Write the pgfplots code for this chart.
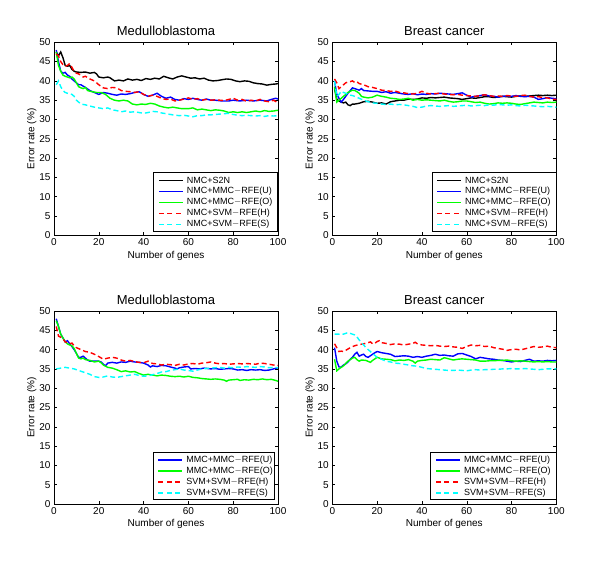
\documentclass[border=0pt]{standalone}
\usepackage{pgfplots}
\pgfplotsset{compat=1.18}
\usepackage{fontspec}
\setmainfont{Liberation Sans}
\definecolor{mblue}{rgb}{0,0,1}
\definecolor{mgreen}{rgb}{0,1,0}
\definecolor{mred}{rgb}{1,0,0}
\definecolor{mcyan}{rgb}{0,1,1}
\pgfplotsset{
  mystyle/.style={
    width=224pt, height=193pt, scale only axis,
    xmin=0, xmax=100, ymin=0, ymax=50,
    xtick={0,20,...,100}, ytick={0,5,...,50},
    tick align=inside, major tick length=3pt,
    tick style={black, line width=0.4pt},
    axis line style={black, line width=0.5pt},
    /pgf/number format/assume math mode=true,
    tick label style={font=\fontsize{10}{10}\selectfont},
    label style={font=\fontsize{10}{10}\selectfont},
    title style={font=\fontsize{13}{13}\selectfont, yshift=-3pt},
    xlabel={Number of genes}, ylabel={Error rate (\%)},
    xlabel style={yshift=2pt},
    ylabel shift=-4pt,
  },
}
\tikzset{
  pblack/.style={draw=black, line width=1.4pt},
  pblue/.style={draw=mblue, line width=1.4pt},
  pgreen/.style={draw=mgreen, line width=1.4pt},
  pred/.style={draw=mred, line width=1.4pt, dash pattern=on 5pt off 3pt},
  pcyan/.style={draw=mcyan, line width=1.4pt, dash pattern=on 5pt off 3pt},
}
% legend helpers (box and entries placed relative to the axis' south east corner)
\newcommand\legbox[5]{\draw[black,line width=0.5pt,fill=white] ([shift={(#2,#3)}]#1.south east) rectangle ([shift={(#4,#5)}]#1.south east);}
\newcommand\legsolid[4]{%
  \fill[#4] ([shift={(#2,#3-0.75pt)}]#1.south east) rectangle ++(24pt,1.5pt);}
\newcommand\legdash[4]{%
  \fill[#4] ([shift={(#2,#3-0.75pt)}]#1.south east) rectangle ++(5pt,1.5pt);
  \fill[#4] ([shift={(#2+8.5pt,#3-0.75pt)}]#1.south east) rectangle ++(5pt,1.5pt);
  \fill[#4] ([shift={(#2+17pt,#3-0.75pt)}]#1.south east) rectangle ++(5pt,1.5pt);}
\newcommand\legtext[4]{%
  \node[anchor=west, inner sep=0pt, font=\fontsize{9}{9}\selectfont] at ([shift={(#2+28.2pt,#3)}]#1.south east) {#4};}
\begin{document}
\begin{tikzpicture}
\useasboundingbox (0pt,0pt) rectangle (600pt,567pt);
% ---------- Panel 1 ----------
\begin{axis}[mystyle, name=ax1, at={(54pt,331.7pt)}, anchor=south west, title={Medulloblastoma}]
\addplot[pblack] coordinates {(1,47.5)(2,46.5)(3,47.5)(4,46)(5,44)(6,43.8)(7,44)(8,43)(9,42.5)(10,42.3)(12,42.2)(14,42.3)(16,42)(18,42.2)(19,41.8)(20,41)(22,40.8)(24,41)(25,40.8)(27,40)(29,40.2)(31,40)(33,40.5)(35,40.2)(37,40.4)(39,40.1)(41,40.6)(43,40.4)(45,40.7)(47,40.5)(49,41.2)(51,40.8)(53,40.5)(55,41)(57,41.3)(59,41)(61,40.7)(63,40.8)(65,40.5)(67,40.7)(69,40.2)(71,40)(73,40.1)(75,40.3)(77,40.5)(79,40.4)(81,40)(83,39.8)(85,40)(87,39.9)(89,39.5)(91,39.3)(93,39.2)(95,38.9)(97,39.1)(99,39.2)(100,39.3)};
\addplot[pblue] coordinates {(1,48)(2,45)(3,42.5)(4,42)(5,42.2)(6,41.5)(7,41.2)(8,40.5)(9,40)(10,39.5)(11,39)(12,39)(14,38.3)(16,37.5)(18,37)(20,36.5)(22,37)(24,36.8)(26,36.5)(28,36.3)(30,36.6)(32,36.5)(34,36.7)(36,37)(38,37.2)(40,36.5)(42,36)(44,36.3)(46,36.8)(48,36)(50,35.5)(52,35.8)(54,35.2)(56,35)(58,35.4)(60,35.2)(62,35.5)(64,35.2)(66,35)(68,35.3)(70,35)(72,35)(75,34.8)(78,34.8)(80,35)(83,34.8)(86,35)(89,34.8)(92,35)(95,34.8)(97,35.2)(99,35.5)(100,35.3)};
\addplot[pgreen] coordinates {(1,47.5)(2,44)(3,42.5)(4,41.5)(5,41.2)(6,41)(7,40.8)(8,41)(9,40.5)(10,39.5)(11,38.5)(12,38.2)(13,38)(14,38.3)(15,37.5)(17,37.2)(19,37)(21,37)(23,36.5)(25,35.5)(27,35)(29,34.8)(31,35)(33,34.8)(35,34)(37,33.8)(39,34)(41,33.9)(43,34.2)(45,34)(47,33.5)(49,33.2)(51,33)(53,33.2)(55,33)(57,32.8)(60,32.8)(62,33)(64,32.5)(66,32.7)(68,32.5)(70,32.3)(72,32.5)(74,32.4)(76,32.2)(78,31.8)(80,32)(82,31.8)(84,32)(86,31.8)(88,32)(90,32.2)(92,32)(94,32.3)(96,32.1)(98,32.2)(100,32.4)};
\addplot[pred] coordinates {(1,47)(2,46.5)(3,45)(4,44.2)(5,43.8)(6,44)(7,44.5)(8,43.5)(9,42.5)(10,42)(11,41.8)(12,41.5)(13,41)(14,41.2)(16,40.5)(18,40)(20,39)(22,38.2)(24,38)(26,38.3)(28,38.2)(30,37.5)(32,37.3)(34,37.2)(36,37)(38,37.2)(40,36.5)(42,36)(44,36.3)(46,36)(48,35.5)(50,35.2)(52,35.3)(54,34.8)(56,35)(58,35.3)(60,35.6)(62,35.2)(64,35.4)(66,35)(68,35.2)(70,35)(72,35.1)(74,35)(76,34.9)(78,35.2)(80,35.5)(82,35)(84,35.2)(86,34.7)(88,35)(90,34.8)(92,35.2)(94,34.8)(96,34.6)(98,35)(100,34.3)};
\addplot[pcyan] coordinates {(1,39)(2,40)(3,38.5)(4,37.5)(5,37)(6,36.8)(7,36.7)(8,36.5)(9,36)(10,35)(11,34.5)(12,34)(14,33.8)(16,33.5)(18,33.2)(20,33)(22,32.8)(24,33)(26,32.5)(28,32.3)(30,32)(32,32.2)(34,31.9)(36,32)(38,31.8)(40,31.6)(42,31.8)(44,32.1)(46,32)(48,31.7)(50,31.5)(52,31.3)(54,31.1)(56,31)(58,31.1)(60,30.9)(62,30.7)(64,31)(66,31)(68,31.2)(70,31.2)(72,31.3)(74,31.4)(76,31.5)(78,31.6)(80,31.3)(82,31.1)(84,31)(86,31.1)(88,31)(90,30.9)(92,31)(94,30.8)(96,31)(98,30.9)(100,31)};
\end{axis}
% ---------- Panel 2 ----------
\begin{axis}[mystyle, name=ax2, at={(332.3pt,331.7pt)}, anchor=south west, title={Breast cancer}]
\addplot[pblack] coordinates {(1,38)(2,35.2)(3,34.8)(4,34.5)(5,34.3)(6,34.5)(7,33.8)(8,33.6)(9,34)(10,34)(12,34.2)(14,34.6)(16,34.7)(18,34.5)(20,34.2)(22,34.3)(24,34)(26,34.6)(28,34.8)(30,35)(32,35)(34,35.3)(36,35.2)(38,35.3)(40,35.6)(42,35.5)(44,35.7)(46,35.6)(48,35.7)(50,35.8)(52,35.6)(54,35.5)(56,35.4)(58,35.2)(60,35.4)(62,35.6)(64,35.5)(66,35.7)(68,35.9)(70,35.9)(72,35.7)(74,35.8)(76,36)(78,35.9)(80,35.8)(82,36)(84,36.1)(86,36)(88,36.1)(90,36.2)(92,36.3)(94,36.2)(96,36.3)(98,36.2)(100,36.3)};
\addplot[pblue] coordinates {(1,40)(2,36.5)(3,35.5)(4,34.5)(5,35.2)(6,36)(7,36.8)(8,37.5)(9,38.2)(10,38)(11,37.8)(12,37.6)(13,38)(14,37.5)(16,37.4)(18,37.3)(20,37.3)(22,37)(24,37.2)(26,36.8)(28,37)(30,36.8)(32,36.6)(34,36.5)(36,36.7)(38,36.4)(40,36.6)(42,36.5)(44,36.7)(46,36.6)(48,36.8)(50,36.7)(52,36.6)(54,36.5)(56,36.7)(58,36.9)(60,36.3)(62,35.8)(64,36)(66,36.2)(68,36.4)(70,36.1)(72,36)(74,35.8)(76,36)(78,36.1)(80,36)(82,36.2)(84,36)(86,35.9)(88,36)(90,35.8)(92,35.2)(94,35.4)(96,35.7)(98,35.5)(100,35.4)};
\addplot[pgreen] coordinates {(1,38.5)(2,34.5)(3,35)(4,35.5)(5,36)(6,36.5)(7,37)(8,37.3)(9,37.6)(10,37.5)(11,37.2)(12,36.8)(13,36)(14,35.8)(16,35.6)(18,35.8)(20,36.3)(22,36)(24,35.8)(26,35.5)(28,35.4)(30,35.2)(32,35.3)(34,35.5)(36,35)(38,35.2)(40,35)(42,35.1)(44,35)(46,34.9)(48,34.8)(50,35)(52,34.7)(54,34.5)(56,34.6)(58,34.8)(60,34.8)(62,34.6)(64,34.4)(66,34.5)(68,34.2)(70,34)(72,34.1)(74,34.3)(76,34.2)(78,34.3)(80,34.2)(82,34)(84,33.9)(86,34.1)(88,34.3)(90,34.5)(92,34.4)(94,34.3)(96,34.5)(98,34.4)(100,34.5)};
\addplot[pred] coordinates {(1,40.5)(2,39.5)(3,38)(4,38.5)(5,39)(6,39.5)(7,39.7)(8,39.8)(9,40)(10,39.6)(11,39.8)(12,39.3)(14,39)(16,38.5)(18,38.3)(20,38)(22,37.6)(24,37.5)(26,37.3)(28,37.4)(30,37)(32,36.9)(34,36.7)(36,36.6)(38,36.8)(40,37.3)(42,36.8)(44,36.6)(46,36.7)(48,36.8)(50,36.6)(52,36.5)(54,36.4)(56,36.5)(58,36.3)(60,36.2)(62,36.1)(64,36)(66,36.2)(68,36.4)(70,36.2)(72,36)(74,36.1)(76,36)(78,36.2)(80,36.1)(82,36)(84,36.2)(86,36.3)(88,36)(90,35.8)(92,35.9)(94,35.7)(96,35.6)(98,35.3)(100,35.2)};
\addplot[pcyan] coordinates {(1,40)(2,36)(3,36.5)(4,37.3)(5,37)(6,36.8)(7,36.5)(8,36.3)(9,36.2)(10,36)(12,35.5)(14,35)(16,34.6)(18,34.3)(20,34.2)(22,34)(24,33.9)(26,34)(28,33.8)(30,33.9)(32,33.8)(34,33.6)(36,33.4)(38,33.1)(40,33.2)(42,33.5)(44,33.6)(46,33.5)(48,33.4)(50,33.5)(52,33.6)(54,33.4)(56,33.5)(58,33.6)(60,33.7)(62,33.5)(64,33.6)(66,33.7)(68,33.6)(70,33.8)(72,33.7)(74,33.9)(76,33.8)(78,33.7)(80,33.8)(82,33.6)(84,33.5)(86,33.7)(88,33.6)(90,33.5)(92,33.4)(94,33.3)(96,33.4)(98,33.3)(100,33.2)};
\end{axis}
% ---------- Panel 3 ----------
\begin{axis}[mystyle, name=ax3, at={(54pt,63pt)}, anchor=south west, title={Medulloblastoma}]
\addplot[pblue] coordinates {(1,48)(2,46)(3,44)(4,43)(5,42)(6,42.3)(7,41.5)(8,40.8)(9,40)(10,39)(11,38)(12,38)(13,38.3)(14,37.8)(15,37.3)(16,37)(18,37)(20,37)(21,36.8)(22,36.2)(23,35.8)(24,36.5)(26,36.7)(28,36.5)(30,36.8)(32,36.7)(34,37)(36,36.8)(38,36.7)(40,36.5)(42,36)(43,35.5)(44,35.8)(46,35.6)(48,35.9)(50,35.8)(52,35.5)(54,35.2)(55,35)(56,35.3)(58,35.5)(60,35.6)(61,35)(63,35.1)(65,35)(67,35.2)(70,35)(72,35.1)(74,34.9)(76,35)(78,35.1)(80,35)(82,34.7)(84,34.8)(86,34.6)(88,34.8)(90,34.7)(92,34.8)(94,34.6)(96,34.7)(98,35)(100,35.3)};
\addplot[pgreen] coordinates {(1,47.5)(2,46)(3,44)(4,43)(5,42)(6,41.5)(7,41.2)(8,41)(9,40.3)(10,39)(11,37.8)(12,37.6)(13,37.8)(14,37.4)(16,37.2)(18,36.8)(20,37)(21,36.6)(22,36)(24,35.4)(26,35.2)(28,34.8)(30,34.3)(32,34.5)(34,34.2)(36,34.3)(38,33.8)(40,33.4)(42,33.6)(44,33.4)(46,33.2)(48,33.4)(50,33.3)(52,33.1)(54,33)(56,33.1)(58,32.9)(60,33.1)(62,32.8)(64,32.7)(66,32.5)(68,32.4)(70,32.3)(72,32.4)(74,32.3)(76,32.1)(77,31.8)(78,32.1)(80,32.2)(82,32.3)(83,32)(85,32.2)(87,32.1)(89,32.3)(91,32.2)(93,32.4)(95,32.2)(97,32.3)(99,32)(100,31.8)};
\addplot[pred] coordinates {(1,46)(2,43.5)(3,43.2)(4,42.8)(5,42)(6,41.8)(7,41.5)(8,41.7)(9,41)(10,40.5)(12,40)(14,39.5)(16,39.3)(18,38.8)(20,38.2)(22,37.5)(24,37.8)(26,38)(28,37.8)(30,37.3)(32,37)(34,37.2)(36,36.9)(38,36.7)(40,36.6)(42,37)(44,36.4)(46,36.3)(48,36)(50,36.2)(52,36.1)(54,35.9)(56,36.2)(58,36)(60,36.3)(62,36.4)(64,36.2)(66,36.5)(68,36.6)(70,36.8)(72,36.5)(74,36.3)(76,36.4)(78,36.2)(80,36.3)(82,36.4)(84,36.3)(86,36.4)(88,36.3)(90,36.2)(92,36.5)(94,36.4)(96,36.2)(98,36)(100,35.9)};
\addplot[pcyan] coordinates {(1,35)(2,35.1)(3,35.2)(4,35.3)(5,35.4)(6,35.3)(7,35.2)(8,35.1)(9,35)(10,34.8)(12,34.4)(14,34)(16,33.6)(18,33)(20,32.8)(22,32.9)(24,33.2)(26,32.9)(28,32.8)(30,33)(32,33.2)(34,33.4)(36,33.6)(38,33.3)(40,33.1)(42,33.2)(44,33.5)(46,33.8)(48,34.2)(50,34.3)(52,34.6)(54,34.8)(56,35)(58,34.7)(60,34.6)(62,34.4)(64,34.7)(66,35)(68,35.1)(70,35.2)(72,35.3)(74,35.4)(76,35.2)(78,35.4)(80,35.3)(82,35.5)(84,35.4)(86,35.6)(88,35.5)(90,35.4)(92,35.6)(94,35.5)(96,35.3)(98,35.4)(100,35.3)};
\end{axis}
% ---------- Panel 4 ----------
\begin{axis}[mystyle, name=ax4, at={(332.3pt,63pt)}, anchor=south west, title={Breast cancer}]
\addplot[pblue] coordinates {(1,40.5)(2,37)(3,35.5)(4,35.5)(5,36)(6,36.3)(7,36.8)(8,37.5)(9,38)(10,38.8)(11,39.3)(12,38.3)(13,38.6)(14,38.8)(15,38.2)(16,38)(17,38.4)(18,38.8)(19,39.2)(20,39.5)(22,39.2)(24,39)(26,38.8)(28,38.2)(30,38.3)(32,38.4)(34,38.3)(36,38)(38,38.2)(40,38)(42,38.3)(44,38.5)(46,38.8)(48,38.5)(50,38.6)(52,38.4)(54,38.3)(56,38.9)(58,39)(60,38.6)(62,38.2)(64,37.6)(66,38)(68,37.8)(70,37.6)(72,37.5)(74,37.3)(76,37.2)(78,37)(80,36.8)(82,37)(84,36.9)(86,37.2)(88,37.5)(90,37)(92,37.1)(94,37)(96,37.2)(98,37.1)(100,37.2)};
\addplot[pgreen] coordinates {(1,37.5)(2,34.5)(3,35)(4,35.4)(5,35.8)(6,36.4)(7,37)(8,37.4)(9,37.8)(10,38)(11,37.4)(12,37)(13,37.3)(15,37.2)(17,36.7)(18,37.2)(20,38)(22,37.6)(24,37.5)(26,37.4)(28,37.1)(30,37.3)(32,37.2)(34,37.4)(36,37)(37,36.5)(38,37)(40,37.2)(42,37.3)(44,37.5)(46,37.4)(48,37.3)(50,37.9)(52,37.6)(54,37.3)(56,37.5)(58,37.6)(60,37.5)(62,37.4)(64,37.3)(66,37)(68,37)(70,37.1)(72,37.1)(74,37.2)(76,37.2)(78,37.3)(80,37.1)(82,37)(84,37.1)(86,37)(88,36.9)(90,36.8)(92,36.9)(94,36.8)(96,36.9)(98,36.8)(100,36.8)};
\addplot[pred] coordinates {(1,41.5)(2,40.5)(3,39.5)(4,39.6)(5,39.5)(6,39.8)(8,40.5)(10,41)(12,41.3)(14,41.5)(16,41.8)(17,42)(18,41.5)(19,41.6)(20,42.1)(21,42.3)(22,41.8)(24,41.6)(26,41.3)(28,41.5)(30,41.4)(32,41.2)(34,41.4)(36,41.6)(37,41.9)(38,41.5)(40,41.2)(42,41.1)(44,41)(46,41.1)(48,40.9)(50,40.8)(52,40.9)(54,40.7)(56,40.6)(58,40.3)(60,40.8)(62,41.2)(64,41)(66,41.1)(68,40.8)(70,40.9)(72,40.5)(74,40.3)(76,40.1)(78,39.8)(80,40)(82,40.1)(84,39.9)(86,40.2)(88,40.5)(90,40.8)(92,40.6)(94,40.7)(96,40.9)(98,40.6)(100,40.5)};
\addplot[pcyan] coordinates {(1,44)(2,44)(3,44)(4,44.1)(5,44)(6,44.2)(7,44.4)(8,44.2)(9,44)(10,43.8)(11,43.3)(12,42.5)(13,41.8)(14,41.2)(15,40.5)(16,40)(18,39)(20,38)(22,37.5)(24,37)(26,36.8)(28,36.5)(30,36.4)(32,36.2)(34,36)(36,35.8)(38,35.7)(40,35.4)(42,35.1)(44,35)(46,34.9)(48,34.8)(50,34.7)(52,34.6)(54,34.6)(56,34.7)(58,34.6)(60,34.5)(62,34.7)(64,34.8)(66,34.7)(68,34.8)(70,34.8)(72,34.9)(74,34.9)(76,35)(78,35)(80,35.1)(82,35)(84,35)(86,35.1)(88,35)(90,34.9)(92,34.8)(94,34.9)(96,35)(98,35)(100,35)};
\end{axis}
% ---------- Legend boxes and samples ----------
\legbox{ax1}{-124.5pt}{4.3pt}{-0.5pt}{63pt}
\legbox{ax2}{-124.5pt}{4.3pt}{-0.5pt}{63pt}
\legbox{ax3}{-125pt}{5pt}{-4pt}{52pt}
\legbox{ax4}{-126.5pt}{4.7pt}{-0.5pt}{51.5pt}
\legsolid{ax1}{-119.5pt}{54.8pt}{black}
\legsolid{ax1}{-119.5pt}{43.8pt}{mblue}
\legsolid{ax1}{-119.5pt}{32.8pt}{mgreen}
\legdash{ax1}{-119.5pt}{21.8pt}{mred}
\legdash{ax1}{-119.5pt}{10.8pt}{mcyan}
\legsolid{ax2}{-119.5pt}{54.8pt}{black}
\legsolid{ax2}{-119.5pt}{43.8pt}{mblue}
\legsolid{ax2}{-119.5pt}{32.8pt}{mgreen}
\legdash{ax2}{-119.5pt}{21.8pt}{mred}
\legdash{ax2}{-119.5pt}{10.8pt}{mcyan}
\legsolid{ax3}{-120pt}{44pt}{mblue}
\legsolid{ax3}{-120pt}{33pt}{mgreen}
\legdash{ax3}{-120pt}{22pt}{mred}
\legdash{ax3}{-120pt}{11pt}{mcyan}
\legsolid{ax4}{-120.5pt}{44pt}{mblue}
\legsolid{ax4}{-120.5pt}{33pt}{mgreen}
\legdash{ax4}{-120.5pt}{22pt}{mred}
\legdash{ax4}{-120.5pt}{11pt}{mcyan}
% ---------- Legend texts ----------
\legtext{ax1}{-119.5pt}{54.8pt}{NMC+S2N}
\legtext{ax1}{-119.5pt}{43.8pt}{NMC+MMC$-$RFE(U)}
\legtext{ax1}{-119.5pt}{32.8pt}{NMC+MMC$-$RFE(O)}
\legtext{ax1}{-119.5pt}{21.8pt}{NMC+SVM$-$RFE(H)}
\legtext{ax1}{-119.5pt}{10.8pt}{NMC+SVM$-$RFE(S)}
\legtext{ax2}{-119.5pt}{54.8pt}{NMC+S2N}
\legtext{ax2}{-119.5pt}{43.8pt}{NMC+MMC$-$RFE(U)}
\legtext{ax2}{-119.5pt}{32.8pt}{NMC+MMC$-$RFE(O)}
\legtext{ax2}{-119.5pt}{21.8pt}{NMC+SVM$-$RFE(H)}
\legtext{ax2}{-119.5pt}{10.8pt}{NMC+SVM$-$RFE(S)}
\legtext{ax3}{-120pt}{44pt}{MMC+MMC$-$RFE(U)}
\legtext{ax3}{-120pt}{33pt}{MMC+MMC$-$RFE(O)}
\legtext{ax3}{-120pt}{22pt}{SVM+SVM$-$RFE(H)}
\legtext{ax3}{-120pt}{11pt}{SVM+SVM$-$RFE(S)}
\legtext{ax4}{-120.5pt}{44pt}{MMC+MMC$-$RFE(U)}
\legtext{ax4}{-120.5pt}{33pt}{MMC+MMC$-$RFE(O)}
\legtext{ax4}{-120.5pt}{22pt}{SVM+SVM$-$RFE(H)}
\legtext{ax4}{-120.5pt}{11pt}{SVM+SVM$-$RFE(S)}
\end{tikzpicture}
\end{document}
